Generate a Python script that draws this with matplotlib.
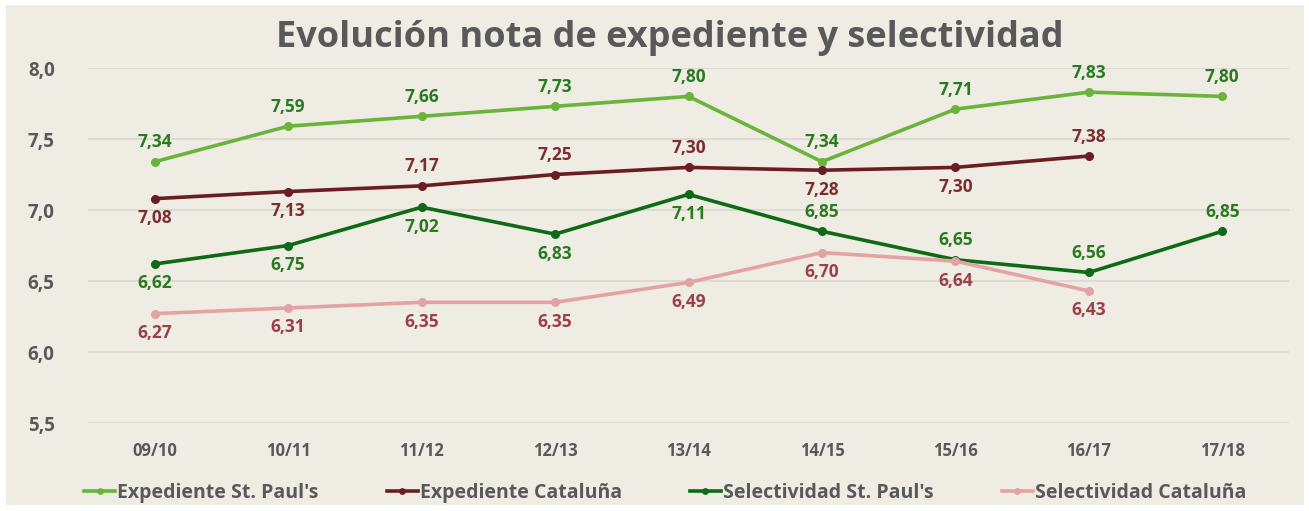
import numpy as np
import matplotlib
matplotlib.use("Agg")
import matplotlib.pyplot as plt
from matplotlib import font_manager
from matplotlib.patches import Rectangle
from matplotlib.ticker import FuncFormatter

names = sorted({f.name for f in font_manager.fontManager.ttflist})
font = "Liberation Sans Narrow" if "Liberation Sans Narrow" in names else "Open Sans"
plt.rcParams['font.family'] = [font, 'DejaVu Sans']

# data
cursos = ["09/10", "10/11", "11/12", "12/13", "13/14", "14/15", "15/16", "16/17", "17/18"]
exp_stpauls = [7.34, 7.59, 7.66, 7.73, 7.80, 7.34, 7.71, 7.83, 7.80]
exp_cat = [7.08, 7.13, 7.17, 7.25, 7.30, 7.28, 7.30, 7.38, np.nan]
sel_stpauls = [6.62, 6.75, 7.02, 6.83, 7.11, 6.85, 6.65, 6.56, 6.85]
sel_cat = [6.27, 6.31, 6.35, 6.35, 6.49, 6.70, 6.64, 6.43, np.nan]

# label positions: 1 above, -1 below
pos_exp_stpauls = [1, 1, 1, 1, 1, 1, 1, 1, 1]
pos_exp_cat = [-1, -1, 1, 1, 1, -1, -1, 1, 1]
pos_sel_stpauls = [-1, -1, -1, -1, -1, 1, 1, 1, 1]
pos_sel_cat = [-1, -1, -1, -1, -1, -1, -1, -1, -1]

bg = "#EFECE4"
fig = plt.figure(figsize=(13.09, 5.11), dpi=100, facecolor="white")
fig.patches.append(Rectangle((6 / 1309, 6 / 511), 1298 / 1309, 500 / 511,
                             transform=fig.transFigure, facecolor=bg,
                             edgecolor="none", zorder=-1))
ax = fig.add_axes([88 / 1309, 88 / 511, 1201 / 1309, 355 / 511])
ax.patch.set_alpha(0)

x = np.arange(len(cursos))
series = [
    ("Expediente St. Paul's", exp_stpauls, "#6AB43C", "#2A7A22", pos_exp_stpauls),
    ("Expediente Cataluña", exp_cat, "#6A1E24", "#7A2E32", pos_exp_cat),
    ("Selectividad St. Paul's", sel_stpauls, "#0E6A14", "#2A7A22", pos_sel_stpauls),
    ("Selectividad Cataluña", sel_cat, "#E3A3A5", "#9A4048", pos_sel_cat),
]
for name, vals, col, lcol, pos in series:
    ax.plot(x, vals, color=col, lw=2.6, marker="o", ms=5.5, label=name)
    for xi, v, p in zip(x, vals, pos):
        if np.isnan(v):
            continue
        ax.annotate(f"{v:.2f}".replace(".", ","), (xi, v),
                    xytext=(0, 14 * p), textcoords="offset points",
                    ha="center", va="center", fontsize=12.5,
                    fontweight="bold", color=lcol)

ax.set_xlim(-0.5, len(cursos) - 0.5)
ax.set_ylim(5.5, 8.0)
ax.set_yticks(np.arange(5.5, 8.01, 0.5))
ax.yaxis.set_major_formatter(FuncFormatter(lambda v, _: f"{v:.1f}".replace(".", ",")))
ax.set_xticks(x)
ax.set_xticklabels(cursos)
ax.grid(axis="y", color="#DAD7D0", lw=1.2)
ax.set_axisbelow(True)
for s in ax.spines.values():
    s.set_visible(False)
ax.tick_params(length=0)
ax.tick_params(axis="y", labelsize=13.5, labelcolor="#595959", pad=24)
ax.tick_params(axis="x", labelsize=12, labelcolor="#595959", pad=14)
for t in ax.get_xticklabels() + ax.get_yticklabels():
    t.set_fontweight("bold")

fig.text(670 / 1309, 1 - 38 / 511, "Evolución nota de expediente y selectividad",
         ha="center", va="center", fontsize=26, fontweight="bold", color="#595959")

leg = fig.legend(loc="center", bbox_to_anchor=(665 / 1309, 1 - 493 / 511), ncol=4,
                 frameon=False, fontsize=14, handlelength=1.6, handletextpad=0.1,
                 columnspacing=3.5, markerscale=0.7)
for t in leg.get_texts():
    t.set_color("#595959")
    t.set_fontweight("bold")

fig.savefig("out.png", dpi=100, facecolor="white")
